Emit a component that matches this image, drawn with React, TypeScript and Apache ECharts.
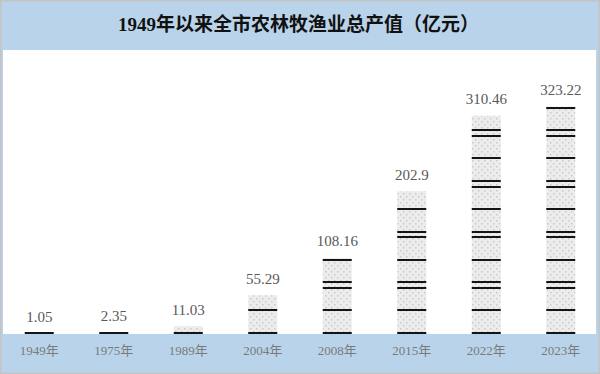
import React, { useEffect, useRef } from "react";
import * as echarts from "echarts";

const categories = ["1949年", "1975年", "1989年", "2004年", "2008年", "2015年", "2022年", "2023年"];
const values = [1.05, 2.35, 11.03, 55.29, 108.16, 202.9, 310.46, 323.22];
const titleText = "1949年以来全市农林牧渔业总产值（亿元）";

const SERIF = "'Liberation Serif', 'DejaVu Serif', 'Noto Sans CJK SC', serif";

function makePattern(): HTMLCanvasElement {
  const c = document.createElement("canvas");
  c.width = 6;
  c.height = 6;
  const ctx = c.getContext("2d")!;
  ctx.fillStyle = "#ececec";
  ctx.fillRect(0, 0, 6, 6);
  ctx.fillStyle = "#c9c9c9";
  ctx.fillRect(1, 1, 1.5, 1.5);
  ctx.fillRect(4, 4, 1.5, 1.5);
  return c;
}

export default function App() {
  const ref = useRef<HTMLDivElement>(null);
  useEffect(() => {
    if (!ref.current) return;
    const chart = echarts.init(ref.current, null, { renderer: "svg" });
    const pattern = makePattern();
    const barW = 29;
    chart.setOption({
      animation: false,
      backgroundColor: "#b9d4ea",
      graphic: [
        {
          type: "rect",
          z: -10,
          silent: true,
          shape: { x: 0.5, y: 0.5, width: 599, height: 373 },
          style: { fill: "none", stroke: "#c4c4c4", lineWidth: 2 },
        },
        {
          type: "rect",
          z: -10,
          silent: true,
          shape: { x: 3, y: 50, width: 593, height: 284 },
          style: { fill: "#ffffff" },
        },
        {
          type: "text",
          left: 118,
          top: 15,
          style: {
            text: titleText,
            font: `bold 19px ${SERIF}`,
            fill: "#111111",
          },
        },
      ],
      grid: { left: 2, right: 2, top: 50, bottom: 40 },
      xAxis: {
        type: "category",
        data: categories,
        axisLine: { show: false },
        axisTick: { show: false },
        axisLabel: {
          color: "#7a7a7a",
          fontSize: 13,
          fontFamily: SERIF,
          margin: 10,
        },
      },
      yAxis: {
        type: "value",
        min: 0,
        max: 404,
        show: false,
        splitLine: { show: false },
      },
      series: [
        {
          type: "custom",
          data: values.map((v, i) => [i, v]),
          encode: { x: 0, y: 1 },
          z: 2,
          renderItem: (params: any, api: any) => {
            const top = api.coord([api.value(0), api.value(1)]);
            const base = api.coord([api.value(0), 0]);
            const h = base[1] - top[1];
            const x0 = top[0] - barW / 2;
            const children: any[] = [
              {
                type: "rect",
                shape: { x: x0, y: top[1], width: barW, height: h },
                style: {
                  fill: { image: pattern, repeat: "repeat", imageWidth: 6, imageHeight: 6 },
                },
              },
            ];
            const offs: number[] = [];
            for (let n = 0; n < 20; n++) {
              for (const o of [0, 22.6, 45]) {
                const off = n * 50.7 + o;
                if (off <= h - 1) offs.push(off);
              }
            }
            if (offs.length === 0) offs.push(0);
            for (const off of offs) {
              const y = Math.round(base[1] - off) - 1;
              children.push({
                type: "line",
                shape: { x1: x0, y1: y, x2: x0 + barW, y2: y },
                style: { stroke: "#141414", lineWidth: 2 },
              });
            }
            return { type: "group", children };
          },
        },
        {
          type: "bar",
          data: values,
          barWidth: barW,
          z: 1,
          itemStyle: { color: "rgba(0,0,0,0)" },
          label: {
            show: true,
            position: "top",
            distance: 9,
            color: "#595959",
            fontSize: 15,
            fontFamily: SERIF,
            formatter: (p: any) => String(p.value),
          },
        },
      ],
    });
    return () => chart.dispose();
  }, []);
  return (
    <div
      ref={ref}
      style={{ position: "fixed", left: 0, top: 0, width: 600, height: 374 }}
    />
  );
}
